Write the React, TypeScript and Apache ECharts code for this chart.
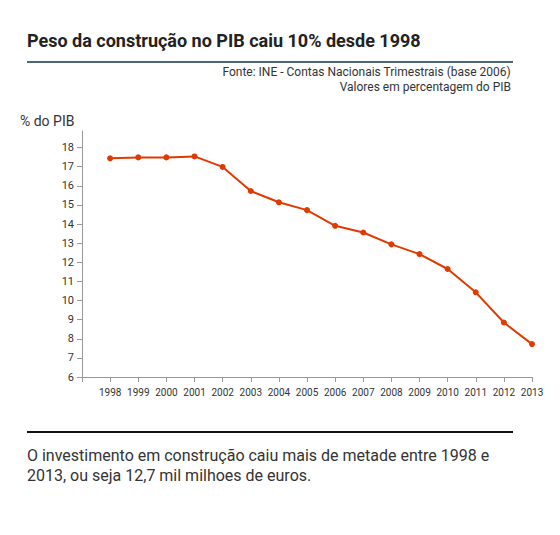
import React, { useEffect, useRef } from "react";
import * as echarts from "echarts";

const years = [1998, 1999, 2000, 2001, 2002, 2003, 2004, 2005, 2006, 2007, 2008, 2009, 2010, 2011, 2012, 2013];
const values = [17.44, 17.49, 17.49, 17.54, 16.99, 15.73, 15.14, 14.73, 13.91, 13.56, 12.94, 12.43, 11.65, 10.43, 8.85, 7.72];
const yTicks = [6, 7, 8, 9, 10, 11, 12, 13, 14, 15, 16, 17, 18];
const xTicks = [1997, 1998, 1999, 2000, 2001, 2002, 2003, 2004, 2005, 2006, 2007, 2008, 2009, 2010, 2011, 2012, 2013];

const title = "Peso da construção no PIB caiu 10% desde 1998";
const source1 = "Fonte: INE - Contas Nacionais Trimestrais (base 2006)";
const source2 = "Valores em percentagem do PIB";
const yName = "% do PIB";
const note1 = "O investimento em construção caiu mais de metade entre 1998 e";
const note2 = "2013, ou seja 12,7 mil milhoes de euros.";

const FONT = "Roboto, 'Noto Sans', sans-serif";

export default function App() {
  const ref = useRef<HTMLDivElement>(null);
  useEffect(() => {
    document.body.style.margin = "0";
    const chart = echarts.init(ref.current!, null, { renderer: "svg" });
    chart.setOption({
      animation: false,
      textStyle: { fontFamily: FONT },
      grid: { left: 82, right: 28, top: 131, bottom: 158, containLabel: false },
      xAxis: {
        type: "value",
        min: 1997,
        max: 2013,
        interval: 1,
        axisLine: { show: true, lineStyle: { color: "#999", width: 1 } },
        axisTick: { show: true, length: 5, lineStyle: { color: "#999" }, customValues: xTicks },
        axisLabel: {
          color: "#333",
          fontSize: 10,
          fontFamily: FONT,
          margin: 10,
          customValues: years,
          formatter: (v: number) => String(v),
        },
        splitLine: { show: false },
      },
      yAxis: {
        type: "value",
        min: 6,
        max: 18.87,
        axisLine: { show: true, lineStyle: { color: "#999", width: 1 } },
        axisTick: { show: true, length: 5, lineStyle: { color: "#999" }, customValues: yTicks },
        axisLabel: {
          color: "#333",
          fontSize: 11,
          fontFamily: FONT,
          margin: 8,
          customValues: yTicks,
        },
        splitLine: { show: false },
      },
      series: [
        {
          type: "line",
          data: years.map((y, i) => [y, values[i]]),
          symbol: "circle",
          symbolSize: 6,
          lineStyle: { color: "#e03a00", width: 2 },
          itemStyle: { color: "#e03a00" },
        },
      ],
      graphic: [
        {
          type: "text",
          left: 27,
          top: 31,
          style: { text: title, font: `bold 18px ${FONT}`, fill: "#222" },
        },
        {
          type: "line",
          shape: { x1: 27, y1: 62, x2: 513, y2: 62 },
          style: { stroke: "#4a6872", lineWidth: 2 },
        },
        {
          type: "text",
          right: 49,
          top: 66,
          style: { text: source1, font: `12px ${FONT}`, fill: "#333", align: "right" },
        },
        {
          type: "text",
          right: 49,
          top: 81,
          style: { text: source2, font: `12px ${FONT}`, fill: "#333", align: "right" },
        },
        {
          type: "text",
          left: 20,
          top: 114,
          style: { text: yName, font: `14px ${FONT}`, fill: "#333" },
        },
        {
          type: "line",
          shape: { x1: 27, y1: 432, x2: 513, y2: 432 },
          style: { stroke: "#111", lineWidth: 2 },
        },
        {
          type: "text",
          left: 27,
          top: 447,
          style: { text: note1, font: `16px ${FONT}`, fill: "#333" },
        },
        {
          type: "text",
          left: 27,
          top: 467,
          style: { text: note2, font: `16px ${FONT}`, fill: "#333" },
        },
      ],
    });
    return () => chart.dispose();
  }, []);
  return <div ref={ref} style={{ width: 560, height: 535 }} />;
}
